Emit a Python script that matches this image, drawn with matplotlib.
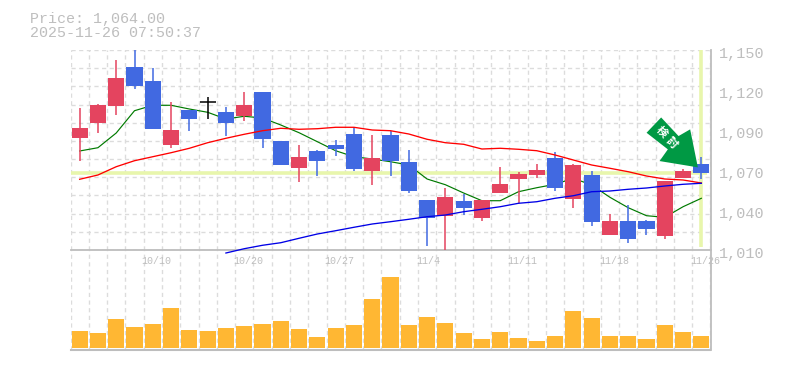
import matplotlib
matplotlib.use("Agg")
import matplotlib.pyplot as plt
from matplotlib.patches import Polygon
from matplotlib.transforms import Affine2D
import numpy as np

# ohlc, red = up, blue = down, black = flat
high = [1109.2, 1112.2, 1143.0, 1150.0, 1137.2, 1113.6, 1108.0, 1116.9, 1110.1, 1120.6, 1120.6, 1086.3,
        1083.5, 1080.0, 1087.0, 1095.9, 1090.5, 1093.3, 1080.0, 1045.0, 1053.6, 1049.2, 1045.0, 1068.3,
        1064.8, 1070.2, 1078.6, 1070.2, 1065.3, 1035.2, 1041.5, 1031.0, 1058.3, 1066.7, 1075.1]
low = [1072.5, 1091.9, 1104.7, 1122.9, 1094.9, 1081.6, 1093.5, 1101.9, 1089.8, 1100.5, 1081.6, 1069.7,
       1057.8, 1062.0, 1076.0, 1065.5, 1055.7, 1062.0, 1050.1, 1012.8, 1010.0, 1034.5, 1030.3, 1049.9,
       1042.7, 1060.4, 1051.5, 1039.6, 1026.8, 1020.5, 1014.9, 1020.5, 1017.7, 1060.4, 1059.9]
body_top = [1095.4, 1111.5, 1130.4, 1138.1, 1128.3, 1094.0, 1108.0, 1113.4, 1106.6, 1111.5, 1120.6, 1086.3,
            1075.1, 1079.3, 1083.5, 1091.2, 1074.4, 1090.5, 1071.6, 1045.0, 1047.1, 1044.3, 1045.0, 1056.2,
            1063.2, 1066.0, 1074.4, 1069.5, 1062.5, 1030.3, 1030.3, 1030.3, 1058.3, 1065.3, 1070.2]
body_bot = [1088.6, 1099.1, 1111.0, 1125.0, 1094.9, 1083.5, 1101.9, 1113.4, 1099.1, 1104.0, 1087.9, 1069.7,
            1067.6, 1072.5, 1080.9, 1066.9, 1065.5, 1072.5, 1051.5, 1032.6, 1033.8, 1039.4, 1032.4, 1049.9,
            1059.7, 1062.5, 1053.4, 1045.7, 1029.6, 1020.5, 1017.7, 1024.7, 1019.8, 1060.4, 1063.9]
direction = ["u", "u", "u", "d", "d", "u", "d", "f", "d", "u", "d", "d",
             "u", "d", "d", "d", "u", "d", "d", "d", "u", "d", "u", "u",
             "u", "u", "d", "u", "d", "u", "d", "d", "u", "u", "d"]

ma_short = [1079.3, 1081.6, 1091.9, 1107.5, 1111.3, 1111.3, 1108.7, 1106.4, 1101.7, 1103.6, 1102.4, 1097.5,
            1092.1, 1085.8, 1079.5, 1075.3, 1073.7, 1071.8, 1069.5, 1059.7, 1055.7, 1049.9, 1044.5, 1044.5,
            1050.8, 1053.6, 1056.0, 1060.2, 1055.5, 1046.9, 1039.6, 1034.0, 1032.9, 1040.3, 1046.2]
ma_mid = [1059.5, 1062.5, 1068.3, 1072.5, 1075.3, 1078.1, 1081.2, 1085.1, 1088.2, 1091.0, 1093.5, 1095.2,
          1094.5, 1094.9, 1095.9, 1095.9, 1094.0, 1093.5, 1091.2, 1087.5, 1085.1, 1084.0, 1080.7, 1081.2,
          1080.5, 1079.5, 1076.5, 1073.0, 1069.5, 1067.2, 1064.8, 1061.8, 1059.7, 1059.0, 1056.9]
ma_long = [1007.9, 1010.9, 1013.3, 1015.1, 1018.2, 1021.2, 1023.5, 1025.9, 1028.2, 1029.8, 1031.5, 1033.3,
           1034.5, 1036.8, 1038.5, 1040.3, 1042.7, 1043.8, 1046.2, 1048.0, 1050.8, 1051.3, 1052.5, 1053.4,
           1054.8, 1056.0, 1056.7]
ma_long_start = 8

volume = [17, 15, 29, 21, 24, 40, 18, 17, 20, 22, 24, 27, 19, 11, 20, 23, 49, 71,
          23, 31, 25, 15, 9, 16, 10, 7, 12, 37, 30, 12, 12, 9, 23, 16, 12]

date_pos = [4, 9, 14, 19, 24, 29, 34]
date_labels = ["10/10", "10/20", "10/27", "11/4", "11/11", "11/18", "11/26"]
price_ticks = [1150, 1122, 1094, 1066, 1038, 1010]
price_labels = ["1,150", "1,120", "1,090", "1,070", "1,040", "1,010"]
last_price = 1064.0
last_time = "2025-11-26 07:50:37"
sign_text = ["検", "討"]

W, H = 785, 370
RED, BLUE, BLACK = "#e4445f", "#4169e1", "#000000"
GRID = "#dcdcdc"
TEXT = "#bebebe"
FRAME = "#bdbdbd"
HILITE = "#e8f6ac"
colors = {"u": RED, "d": BLUE, "f": BLACK}
n = len(high)
x = np.arange(n)
plt.rcParams["font.family"] = ["Liberation Mono", "DejaVu Sans Mono"]


def box(left, top, right, bottom):
    return [left / W, 1 - bottom / H, (right - left) / W, (bottom - top) / H]


fig = plt.figure(figsize=(W / 100, H / 100), dpi=100)
ax_vol = fig.add_axes(box(70.5, 250, 710.5, 350))
ax = fig.add_axes(box(70.5, 50, 710.5, 250))
ax.set_zorder(2)
ax.patch.set_visible(False)

for a in (ax, ax_vol):
    a.set_xlim(-0.5, n - 0.5)
    a.set_xticks(np.arange(n + 1) - 0.5)
    a.tick_params(length=0, labelbottom=False, labelleft=False)
    a.grid(axis="x", color=GRID, lw=1, ls=(0, (3, 2.5)))
    a.set_axisbelow(True)
    for s in a.spines.values():
        s.set_visible(False)
    a.spines["right"].set_visible(True)
    a.spines["right"].set_color(FRAME)
    a.spines["right"].set_linewidth(1.3)

ax.set_ylim(1010, 1150)
ax.set_yticks(np.linspace(1010, 1150, 12))
ax.grid(axis="y", color=GRID, lw=1, ls=(0, (3, 2.5)))
ax.spines["bottom"].set_visible(True)
ax.spines["bottom"].set_color(FRAME)
ax.spines["bottom"].set_linewidth(1.3)

# current price and current day highlight
ax.plot([-0.5, n - 1 + 0.3], [last_price, last_price], color=HILITE, lw=2.6, solid_capstyle="butt", zorder=1)
ax.plot([n - 1, n - 1], [1012, 1150], color=HILITE, lw=2.6, solid_capstyle="butt", zorder=1)

# candles
for i in range(n):
    c = colors[direction[i]]
    ax.plot([x[i], x[i]], [low[i], high[i]], color=c, lw=1.1, solid_capstyle="butt", zorder=3, clip_on=False)
    if direction[i] == "f":
        ax.plot([x[i] - 0.44, x[i] + 0.44], [body_top[i], body_top[i]], color=c, lw=1.1, solid_capstyle="butt", zorder=3)
    else:
        ax.bar(x[i], body_top[i] - body_bot[i], bottom=body_bot[i], width=0.88, color=c, lw=0, zorder=3)

ax.plot(x, ma_short, color="#007a00", lw=0.85, zorder=2)
ax.plot(x, ma_mid, color="#ff0000", lw=0.95, zorder=4)
ax.plot(x[ma_long_start:], ma_long, color="#0000e6", lw=0.95, zorder=4, clip_on=False)

# sign pointing at the last candle, shape in pixels from its tip
tip = ax.transData.transform((n - 1, last_price))
shape = [(-51.3, 34.6), (-36.7, 49.9), (-19.3, 31.3), (-7.7, 38.0), (0, 0), (-38.3, 6.3), (-30, 18)]
sign = Polygon(shape, closed=True, color="#009944", lw=0, zorder=6,
               transform=Affine2D().translate(tip[0] - 3.5, tip[1] + 5.5), clip_on=False)
ax.add_patch(sign)
for k, ch in enumerate(sign_text):
    ax.annotate(ch, xy=(tip[0] - 39 + 9.5 * k, tip[1] + 41 - 10.5 * k), xycoords="figure pixels",
                ha="center", va="center", rotation=-45, color="white", fontsize=8, fontweight="bold",
                family=["Noto Sans CJK JP", "DejaVu Sans"], zorder=7)

ax_vol.set_ylim(-2, 98)
ax_vol.set_yticks([])
ax_vol.spines["bottom"].set_visible(True)
ax_vol.spines["bottom"].set_color(FRAME)
ax_vol.spines["bottom"].set_linewidth(1.5)
ax_vol.bar(x, volume, width=0.88, color="#ffb733", lw=0, zorder=3)

# labels sit a little off the grid like the original
for pos, lab in zip(date_pos, date_labels):
    ax.annotate(lab, xy=(pos, 0), xycoords=("data", "axes fraction"), xytext=(-8, -10), textcoords="offset points",
                ha="left", va="baseline", color=TEXT, fontsize=7.2, annotation_clip=False)
for val, lab in zip(price_ticks, price_labels):
    ax.annotate(lab, xy=(1, val), xycoords=("axes fraction", "data"), xytext=(6.2, -2.8), textcoords="offset points",
                ha="left", va="center", color=TEXT, fontsize=11, annotation_clip=False)

fig.text(30 / W, 1 - 23 / H, f"Price: {last_price:,.2f}", color=TEXT, fontsize=10.8, va="baseline")
fig.text(30 / W, 1 - 37 / H, last_time, color=TEXT, fontsize=10.8, va="baseline")

fig.savefig("out.png", dpi=100)
